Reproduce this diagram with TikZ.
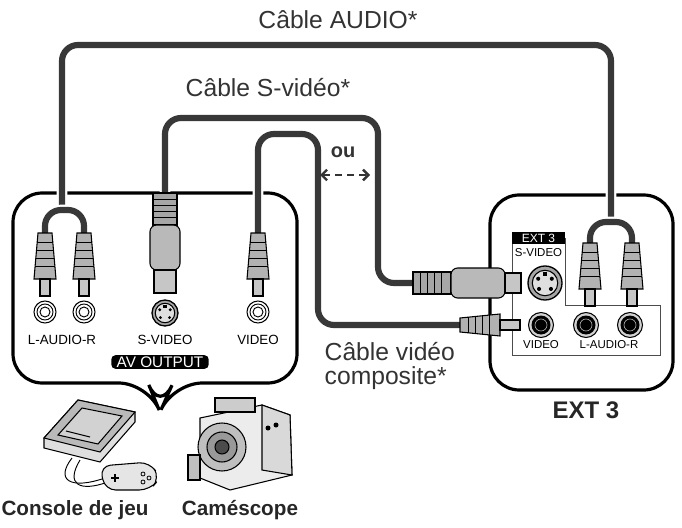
\documentclass[tikz,border=0pt]{standalone}
\usepackage{fontspec}
\setmainfont{Liberation Sans}
\usetikzlibrary{arrows.meta}
\begin{document}
\begin{tikzpicture}[x=0.75pt,y=-0.75pt,
  cable/.style={draw=black!78,line width=4.6pt,rounded corners=12,preaction={draw=white,line width=8pt}},
  frame/.style={draw=black,line width=2.4pt,rounded corners=22},
  big/.style={font=\fontsize{18.5}{21}\selectfont,text=black!80},
  small/.style={font=\fontsize{10}{11}\selectfont},
  rsmall/.style={font=\fontsize{8.6}{9}\selectfont},
  bold/.style={font=\bfseries\fontsize{15.5}{17}\selectfont,text=black!85},
  tag/.style={fill=black,text=white,rounded corners=3pt,inner xsep=4pt,inner ysep=1pt,font=\fontsize{11.5}{12}\selectfont},
  part/.style={draw=black,line width=0.8pt},
  rcav/.pic={
    \filldraw[part,fill=gray!60] (-7,0)--(7,0)--(11,46)--(-11,46)--cycle;
    \foreach \y in {9,17,25,33} \draw[line width=0.6pt] ({-7-4*\y/46},\y)--({7+4*\y/46},\y);
    \filldraw[part,fill=gray!45] (-5,46) rectangle (5,63);},
  rcah/.pic={
    \filldraw[part,fill=gray!60] (0,-7)--(0,7)--(40,11)--(40,-11)--cycle;
    \foreach \x in {8,15,22,29} \draw[line width=0.6pt] (\x,{-7-4*\x/40})--(\x,{7+4*\x/40});
    \filldraw[part,fill=gray!45] (40,-5) rectangle (60,5);},
  svidv/.pic={
    \filldraw[part,fill=gray!70] (-12,0) rectangle (12,32);
    \foreach \y in {6,12,18,24} \draw[line width=0.6pt] (-12,\y)--(12,\y);
    \filldraw[part,fill=gray!55,rounded corners=5] (-15,32) rectangle (15,77);
    \filldraw[part,fill=gray!45] (-11,77) rectangle (11,100);},
  svidh/.pic={
    \filldraw[part,fill=gray!70] (0,-11) rectangle (38,11);
    \foreach \x in {7,14,21,28} \draw[line width=0.6pt] (\x,-11)--(\x,11);
    \filldraw[part,fill=gray!55,rounded corners=5] (38,-15) rectangle (92,15);
    \filldraw[part,fill=gray!45] (92,-10) rectangle (108,10);},
  jackl/.pic={
    \filldraw[part,fill=white] (0,0) circle (11);
    \draw[line width=0.7pt] (0,0) circle (8) (0,0) circle (5);},
  jackr/.pic={
    \filldraw[part,fill=gray!35] (0,0) circle (12.5);
    \fill[black] (0,0) circle (9.5);
    \draw[gray!60,line width=0.5pt] (0,0) circle (6);},
  sjack/.pic={
    \filldraw[part,fill=gray!70,line width=1pt] (0,0) circle (1);
    \filldraw[part,fill=gray!25] (0,0) circle (0.75);
    \fill[black] (-0.4,-0.25) circle (0.12) (0.4,-0.25) circle (0.12) (-0.35,0.35) circle (0.12) (0.35,0.35) circle (0.12);
    \fill[black] (-0.12,-0.62) rectangle (0.12,-0.4);}
]
\useasboundingbox (0,0) rectangle (682,528);

% panels
\draw[frame] (13,193) -- (297,193) -- (297,383) -- (173,383) -- (160,412) -- (148,383) -- (13,383) -- cycle;
\draw[frame] (490,195) rectangle (673,390);
\draw[black!70,line width=0.6pt] (512,238) -- (512,355) -- (660,355) -- (660,305) -- (565,305) -- (565,238);
\node[tag,rounded corners=0pt,minimum width=40pt,font=\fontsize{9}{9}\selectfont] (ext3tag) at (538.5,238) {EXT 3};

% coordinates
\coordinate (la) at (62,210);
\coordinate (ra) at (611,222);
\coordinate (ls) at (165,193);
\coordinate (rs) at (413,283);
\coordinate (lv) at (258,233);
\coordinate (rv) at (460,325);

% cables
\draw[cable] (la) -- (62,45) -- (611,45) -- (ra);
\draw[cable] (ls) |- (378,118) -- (378,283) -- (rs);
\draw[cable] (lv) |- (318,134) -- (318,325) -- (rv);
\draw[cable,preaction={draw=none}] (45,235) -- (45,210) -- (84,210) -- (84,235);
\draw[cable,preaction={draw=none}] (590,243) -- (590,222) -- (632,222) -- (632,243);

% left plugs and jacks
\pic at (45,233) {rcav};
\pic at (84,233) {rcav};
\pic at (258,233) {rcav};
\pic at (ls) {svidv};
\pic at (45,312) {jackl};
\pic at (84,312) {jackl};
\pic at (258,312) {jackl};
\pic[scale=13] at (165,313) {sjack};
\node[small] (llab1) at (62,340) {L-AUDIO-R};
\node[small] (llab2) at (165,340) {S-VIDEO};
\node[small] (llab3) at (258,340) {VIDEO};
\node[tag] (avout) at (160,362) {AV OUTPUT};

% right plugs and jacks
\pic at (590,243) {rcav};
\pic at (632,243) {rcav};
\pic at (rs) {svidh};
\pic at (rv) {rcah};
\pic[scale=17] at (545,283) {sjack};
\node[rsmall] (rlab0) at (538.5,253) {S-VIDEO};
\pic at (541,325) {jackr};
\pic at (586,325) {jackr};
\pic at (630,325) {jackr};
\node[rsmall] (rlab1) at (541,345) {VIDEO};
\node[rsmall] (rlab2) at (609,345) {L-AUDIO-R};

% labels
\node[big] (taudio) at (338,20) {Câble AUDIO*};
\node[big] (tsvid) at (268,88) {Câble S-vidéo*};
\node[big,align=left,anchor=west] (tcomp) at (320,366) {Câble vidéo\\[-3pt]composite*};
\node[font=\bfseries\fontsize{15}{16}\selectfont,text=black!80] (ou) at (343,152) {ou};
\draw[black!80,line width=1.8pt,dash pattern=on 5pt off 4pt,{Straight Barb[length=4pt,width=8pt]}-{Straight Barb[length=4pt,width=8pt]}] (320,175) -- (370,175);
\node[bold,font=\bfseries\fontsize{18}{19}\selectfont] (ext3) at (586,410) {EXT 3};
\node[bold] (console) at (75,510) {Console de jeu};
\node[bold] (camera) at (240,510) {Caméscope};

% game console
\filldraw[part,fill=gray!25] (44,438) -- (78,400) -- (135,412) -- (135,422) -- (100,462) -- (44,448) -- cycle;
\filldraw[part,fill=gray!55] (44,438) -- (78,400) -- (135,412) -- (100,452) -- cycle;
\filldraw[part,fill=gray!35] (58,435) -- (82,408) -- (122,416) -- (98,444) -- cycle;
\draw[part] (66,431) -- (90,437);
\draw[line width=0.7pt] (72,458) .. controls (55,480) and (70,490) .. (105,478);
\draw[line width=0.7pt] (80,460) .. controls (65,485) and (80,492) .. (108,482);
\filldraw[part,fill=gray!20,rounded corners=8] (100,466) -- (150,462) -- (160,478) -- (150,490) -- (105,490) -- cycle;
\draw[part] (115,478) +(-4,0) -- +(4,0) +(0,-4) -- +(0,4);
\draw[line width=0.6pt] (143,474) circle (2) (149,478) circle (2) (143,482) circle (2);

% camcorder
\filldraw[part,fill=gray!15] (200,418) -- (262,405) -- (290,415) -- (292,475) -- (230,490) -- (200,478) -- cycle;
\filldraw[part,fill=gray!30] (262,405) -- (290,415) -- (292,475) -- (262,470) -- cycle;
\filldraw[part,fill=gray!50] (222,447) circle (24);
\filldraw[part,fill=gray!80] (222,447) circle (15);
\filldraw[part,fill=black!70] (222,447) circle (7);
\filldraw[part,fill=gray!40] (215,398) rectangle (255,412);
\filldraw[part,fill=gray!50] (188,455) rectangle (200,480);
\fill[black] (268,428) circle (2.5) (276,425) circle (2.5);
\end{tikzpicture}
\end{document}
